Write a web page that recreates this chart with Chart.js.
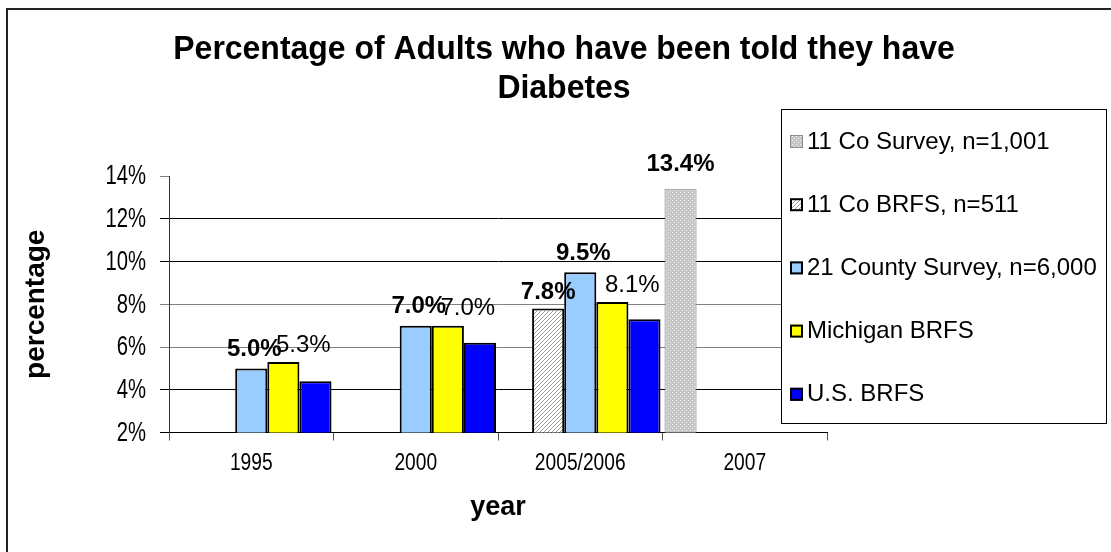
<!DOCTYPE html>
<html>
<head>
<meta charset="utf-8">
<script src="https://cdn.jsdelivr.net/npm/chart.js@4.4.1/dist/chart.umd.min.js"></script>
<style>
  html, body { margin: 0; padding: 0; background: #fff; }
  canvas { display: block; }
</style>
</head>
<body>
<canvas id="chart" width="1111" height="552"></canvas>
<script>
// data
const years = ['1995', '2000', '2005/2006', '2007'];
const coSurvey = [null, null, null, 13.4];
const coBrfs = [null, null, 7.8, null];
const countySurvey = [5.0, 7.0, 9.5, null];
const michiganBrfs = [5.3, 7.0, 8.1, null];
const usBrfs = [4.4, 6.2, 7.3, null];
const seriesNames = ['11 Co Survey, n=1,001', '11 Co BRFS, n=511', '21 County Survey, n=6,000', 'Michigan BRFS', 'U.S. BRFS'];
const yMin = 2, yMax = 14, yStep = 2;
const titleLines = ['Percentage of Adults who have been told they have', 'Diabetes'];

const ARIAL = '"Liberation Sans", Arial, sans-serif';

function makePattern(kind) {
  const c = document.createElement('canvas');
  c.width = 4; c.height = 4;
  const g = c.getContext('2d');
  if (kind === 'dots') {
    g.fillStyle = '#c6c6c6'; g.fillRect(0, 0, 4, 4);
    g.fillStyle = '#ededed'; g.fillRect(0, 0, 1, 1); g.fillRect(2, 2, 1, 1);
  } else {
    g.fillStyle = '#ffffff'; g.fillRect(0, 0, 4, 4);
    g.fillStyle = '#9c9c9c';
    for (let i = 0; i < 4; i++) g.fillRect(3 - i, i, 1, 1);
  }
  return g.createPattern(c, 'repeat');
}

const dotFill = makePattern('dots');
const hatchFill = makePattern('hatch');

// the original uses a condensed face, so squeeze Arial sideways
function squeezedText(ctx, text, x, y, sx, align, font) {
  ctx.save();
  ctx.translate(x, y);
  ctx.scale(sx, 1);
  ctx.font = font;
  ctx.textAlign = align;
  ctx.textBaseline = 'middle';
  ctx.fillStyle = '#000';
  ctx.fillText(text, 0, 0);
  ctx.restore();
}

// frame, title, tick labels and the legend box that sits over the plot
const decor = {
  id: 'decor',
  beforeDraw(chart) {
    const ctx = chart.ctx;
    ctx.save();
    ctx.fillStyle = '#fff';
    ctx.fillRect(0, 0, chart.width, chart.height);
    ctx.strokeStyle = '#222';
    ctx.lineWidth = 2;
    ctx.strokeRect(7, 9, 1200, 700);
    ctx.restore();
  },
  afterDraw(chart) {
    const ctx = chart.ctx;
    const { x, y } = chart.scales;
    titleLines.forEach((t, i) => squeezedText(ctx, t, 564, 50 + i * 38.5, 0.94, 'center', 'bold 34px ' + ARIAL));

    y.ticks.forEach((t, i) => {
      squeezedText(ctx, t.value + '%', 146, y.getPixelForTick(i) + 1, 0.75, 'right', '27px ' + ARIAL);
    });
    x.ticks.forEach((t, i) => {
      squeezedText(ctx, x.getLabelForValue(t.value), x.getPixelForTick(i), 463, 0.8, 'center', '24px ' + ARIAL);
    });

    // legend
    ctx.save();
    ctx.fillStyle = '#fff';
    ctx.fillRect(781, 109, 326, 315);
    ctx.strokeStyle = '#000';
    ctx.lineWidth = 1;
    ctx.strokeRect(781.5, 109.5, 325, 314);
    ctx.textAlign = 'left';
    ctx.textBaseline = 'middle';
    ctx.font = '24px ' + ARIAL;
    chart.data.datasets.forEach((ds, i) => {
      const cy = 141 + i * 63.2;
      ctx.fillStyle = ds.backgroundColor;
      ctx.fillRect(790, cy - 6, 13, 13);
      ctx.strokeStyle = ds.borderColor;
      ctx.lineWidth = ds.borderWidth;
      ctx.strokeRect(790 + ds.borderWidth / 2, cy - 6 + ds.borderWidth / 2, 13 - ds.borderWidth, 13 - ds.borderWidth);
      ctx.fillStyle = '#000';
      ctx.fillText(ds.label, 807, cy + 1);
    });
    ctx.restore();
  }
};

const valueLabels = {
  id: 'valueLabels',
  afterDatasetsDraw(chart) {
    const ctx = chart.ctx;
    chart.data.datasets.forEach((ds, i) => {
      if (!ds.showValues) return;
      const meta = chart.getDatasetMeta(i);
      meta.data.forEach((bar, j) => {
        const v = ds.data[j];
        if (v == null) return;
        ctx.save();
        ctx.font = (ds.valueBold ? 'bold ' : '') + '24px ' + ARIAL;
        ctx.fillStyle = '#000';
        ctx.textAlign = 'center';
        ctx.textBaseline = 'middle';
        ctx.fillText(v.toFixed(1) + '%', bar.x + ds.valueDx, bar.y - ds.valueDy);
        ctx.restore();
      });
    });
  }
};

const gridColor = (ctx) => {
  const v = ctx.tick ? ctx.tick.value : null;
  if (v === 14) return 'rgba(0,0,0,0)';
  if (v === 6 || v === 8) return '#808080';
  return '#000';
};
const tickColor = (ctx) => {
  const v = ctx.tick ? ctx.tick.value : null;
  if (v === 14 || v === 6 || v === 8) return '#808080';
  return '#000';
};

new Chart(document.getElementById('chart'), {
  type: 'bar',
  data: {
    labels: years,
    datasets: [
      { label: seriesNames[0], data: coSurvey, backgroundColor: dotFill, borderColor: '#8c8c8c', borderWidth: 1,
        showValues: true, valueBold: true, valueDx: 0, valueDy: 24 },
      { label: seriesNames[1], data: coBrfs, backgroundColor: hatchFill, borderColor: '#000', borderWidth: 2,
        showValues: true, valueBold: true, valueDx: 0, valueDy: 16 },
      { label: seriesNames[2], data: countySurvey, backgroundColor: '#99ccff', borderColor: '#000', borderWidth: 2,
        showValues: true, valueBold: true, valueDx: 3, valueDy: 19 },
      { label: seriesNames[3], data: michiganBrfs, backgroundColor: '#ffff00', borderColor: '#000', borderWidth: 2,
        showValues: true, valueBold: false, valueDx: 20, valueDy: 17 },
      { label: seriesNames[4], data: usBrfs, backgroundColor: '#0000ff', borderColor: '#000', borderWidth: 2,
        showValues: false }
    ]
  },
  options: {
    responsive: false,
    animation: false,
    devicePixelRatio: 1,
    layout: { padding: { left: 0, right: 284, top: 176, bottom: 0 } },
    datasets: {
      bar: { categoryPercentage: 0.976, barPercentage: 1.0, borderSkipped: false }
    },
    plugins: {
      legend: { display: false },
      title: { display: false },
      tooltip: { enabled: false }
    },
    scales: {
      x: {
        afterFit(scale) { scale.height = 119.5; },
        grid: { offset: true, drawOnChartArea: false, tickLength: 8, color: '#555' },
        border: { color: '#000', width: 1 },
        ticks: { display: false },
        title: { display: true, text: 'year', color: '#000', font: { family: ARIAL, size: 27, weight: 'bold' },
          padding: { top: 0, bottom: 28 } }
      },
      y: {
        min: yMin, max: yMax,
        afterFit(scale) { scale.width = 169; },
        grid: { color: gridColor, tickColor: tickColor, tickLength: 9 },
        border: { color: '#333', width: 1 },
        ticks: { stepSize: yStep, display: false },
        title: { display: true, text: 'percentage', color: '#000', font: { family: ARIAL, size: 28, weight: 'bold' },
          padding: { top: 19, bottom: 0 } }
      }
    }
  },
  plugins: [decor, valueLabels]
});
</script>
</body>
</html>
